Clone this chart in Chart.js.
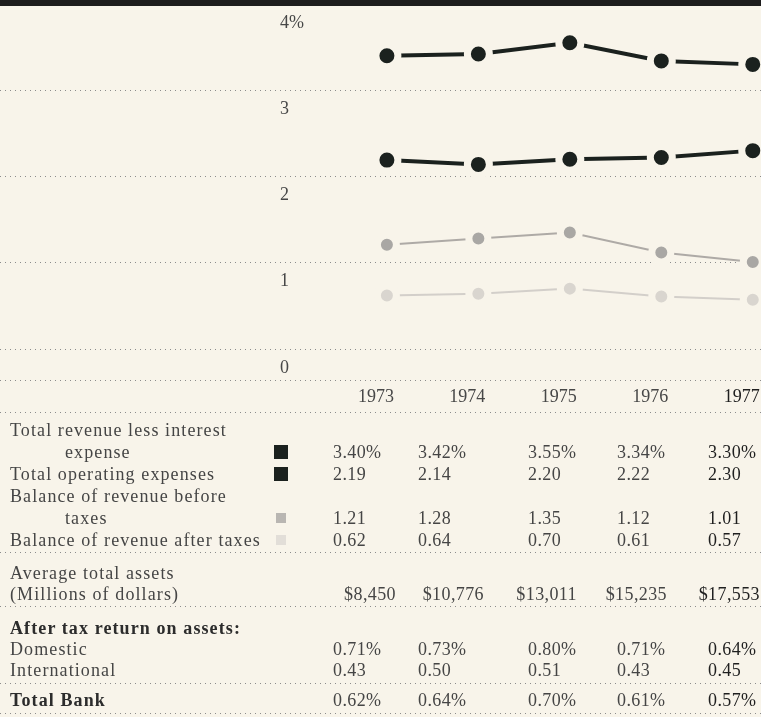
<!DOCTYPE html>
<html>
<head>
<meta charset="utf-8">
<script src="https://cdn.jsdelivr.net/npm/chart.js@4"></script>
<style>
  body { margin: 0; background: #f8f4ea; font-family: "Liberation Serif", serif; color: #454545; }
  #page { position: relative; width: 761px; height: 717px; overflow: hidden; }
  #bar { position: absolute; left: 0; top: 0; width: 761px; height: 6px; background: #1d1d1d; z-index: 2; }
  #plot { position: absolute; left: 0; top: 0; width: 761px; height: 413px; }
  #table { position: absolute; left: 0; top: 412px; width: 761px; }
  .dots { height: 1px; background: repeating-linear-gradient(to right, #8c8c8c 0 1px, transparent 1px 5px); }
  .sec { padding-bottom: 1px; }
  .row { position: relative; display: grid; grid-template-columns: 333px 85px 110px 89px 91px 53px;
         height: 22px; line-height: 22px; font-size: 18px; white-space: nowrap; }
  .row .lab { padding-left: 10px; letter-spacing: 1.1px; }
  .row .lab.ind { padding-left: 65px; }
  .row .lab.bold { font-weight: bold; color: #2c2c2c; }
  .row .v { letter-spacing: 0.4px; }
  .row .v.last { color: #1f1f1f; }
  .row.money { grid-template-columns: 280px 116px 88px 93px 90px 93px 1px; }
  .row.money .v { text-align: right; }
  .sw { position: absolute; left: 274px; top: 4px; width: 14px; height: 14px; }
  .sw.small { left: 276px; top: 6px; width: 10px; height: 10px; }
</style>
</head>
<body>
<div id="page">
  <div id="bar"></div>
  <div id="plot"><canvas id="chart"></canvas></div>
  <div id="table"></div>
</div>
<script>
// ---- data ----
const years = [1973, 1974, 1975, 1976, 1977];
const yTicks = [0, 1, 2, 3, 4];
const revenueLessInterest = [3.40, 3.42, 3.55, 3.34, 3.30];
const operatingExpenses = [2.19, 2.14, 2.20, 2.22, 2.30];
const balanceBeforeTaxes = [1.21, 1.28, 1.35, 1.12, 1.01];
const balanceAfterTaxes = [0.62, 0.64, 0.70, 0.61, 0.57];
const averageAssets = ['$8,450', '$10,776', '$13,011', '$15,235', '$17,553'];
const domesticReturn = [0.71, 0.73, 0.80, 0.71, 0.64];
const internationalReturn = [0.43, 0.50, 0.51, 0.43, 0.45];
const totalBankReturn = [0.62, 0.64, 0.70, 0.61, 0.57];

const BG = '#f8f4ea';
const DARK = '#1b211e', MID = '#a9a7a4', LIGHT = '#d9d5cf';
const FONT = '18px "Liberation Serif", serif';

const pts = vals => vals.map((v, i) => ({ x: years[i], y: v }));

// the cream border around each marker leaves the little gap between dot and line
function series(vals, color, lineColor, width, r, gap) {
  return {
    data: pts(vals), borderColor: lineColor, borderWidth: width,
    pointRadius: r + gap / 2, pointHoverRadius: r + gap / 2,
    pointBackgroundColor: color, pointBorderColor: BG, pointBorderWidth: gap,
    tension: 0,
  };
}

// y labels sit under their gridline, years sit between two dotted rules
const axisText = {
  id: 'axisText',
  afterDraw(chart) {
    const { ctx, chartArea, scales: { x, y } } = chart;
    ctx.save();
    ctx.font = FONT;
    ctx.fillStyle = '#474747';
    ctx.textBaseline = 'middle';
    ctx.textAlign = 'left';
    y.ticks.forEach(t => ctx.fillText(t.value === 4 ? '4%' : String(t.value), 280, y.getPixelForValue(t.value) + 19));
    ctx.textAlign = 'center';
    years.forEach((yr, i) => {
      ctx.fillStyle = i === years.length - 1 ? '#1f1f1f' : '#474747';
      ctx.fillText(String(yr), x.getPixelForValue(yr) - 11, chartArea.bottom + 48);
    });
    ctx.strokeStyle = '#8c8c8c';
    ctx.lineWidth = 1;
    ctx.setLineDash([1, 4]);
    ctx.beginPath();
    ctx.moveTo(0, chartArea.bottom + 31.5);
    ctx.lineTo(chart.width, chartArea.bottom + 31.5);
    ctx.stroke();
    ctx.restore();
  }
};

new Chart(document.getElementById('chart'), {
  type: 'line',
  data: {
    datasets: [
      series(revenueLessInterest, DARK, DARK, 4, 7.5, 7),
      series(operatingExpenses, DARK, DARK, 4, 7.5, 7),
      series(balanceBeforeTaxes, MID, '#aeaaa6', 2, 6, 7),
      series(balanceAfterTaxes, LIGHT, '#d3cfca', 2, 6, 7),
    ],
  },
  options: {
    responsive: true, maintainAspectRatio: false, animation: false,
    layout: { autoPadding: false, padding: { top: 4, bottom: 64, left: 0, right: 0 } },
    plugins: { legend: { display: false }, tooltip: { enabled: false } },
    scales: {
      x: { type: 'linear', display: false, min: 1968.77, max: 1977.09 },
      y: {
        min: 0, max: 4,
        afterBuildTicks: s => { s.ticks = yTicks.map(v => ({ value: v })); },
        ticks: { display: false },
        grid: { color: '#8c8c8c', lineWidth: 1, drawTicks: false },
        border: { display: false, dash: [1, 4] },
      },
    },
  },
  plugins: [axisText],
});

// ---- table below the chart ----
const pct = vals => vals.map(v => v.toFixed(2) + '%');
const num = vals => vals.map(v => v.toFixed(2));

function row(label, values, o = {}) {
  const h = o.h || 22;
  const sw = o.swatch ? `<div class="sw ${o.small ? 'small' : ''}" style="background:${o.swatch}"></div>` : '';
  const cells = (values || []).map((v, i) => `<div class="v ${i === values.length - 1 ? 'last' : ''}">${v}</div>`).join('');
  return `<div class="row ${o.money ? 'money' : ''}" style="height:${h}px;line-height:${h}px">` +
    `<div class="lab ${o.indent ? 'ind' : ''} ${o.bold ? 'bold' : ''}">${label}</div>${cells}${sw}</div>`;
}

document.getElementById('table').innerHTML = `
  <div class="dots"></div>
  <div class="sec" style="padding-top:6px">
    ${row('Total revenue less interest')}
    ${row('expense', pct(revenueLessInterest), { indent: true, swatch: DARK })}
    ${row('Total operating expenses', num(operatingExpenses), { swatch: DARK })}
    ${row('Balance of revenue before')}
    ${row('taxes', num(balanceBeforeTaxes), { indent: true, swatch: '#b9b6b2', small: true })}
    ${row('Balance of revenue after taxes', num(balanceAfterTaxes), { swatch: '#e2ded8', small: true })}
  </div>
  <div class="dots"></div>
  <div class="sec" style="padding-top:10px">
    ${row('Average total assets', null, { h: 21 })}
    ${row('(Millions of dollars)', averageAssets, { h: 21, money: true })}
  </div>
  <div class="dots"></div>
  <div class="sec" style="padding-top:11px;padding-bottom:2px">
    ${row('After tax return on assets:', null, { h: 21, bold: true })}
    ${row('Domestic', pct(domesticReturn), { h: 21 })}
    ${row('International', num(internationalReturn), { h: 21 })}
  </div>
  <div class="dots"></div>
  <div class="sec" style="padding-top:6px;padding-bottom:2px">
    ${row('Total Bank', pct(totalBankReturn), { h: 21, bold: true })}
  </div>
  <div class="dots"></div>
`;
</script>
</body>
</html>
